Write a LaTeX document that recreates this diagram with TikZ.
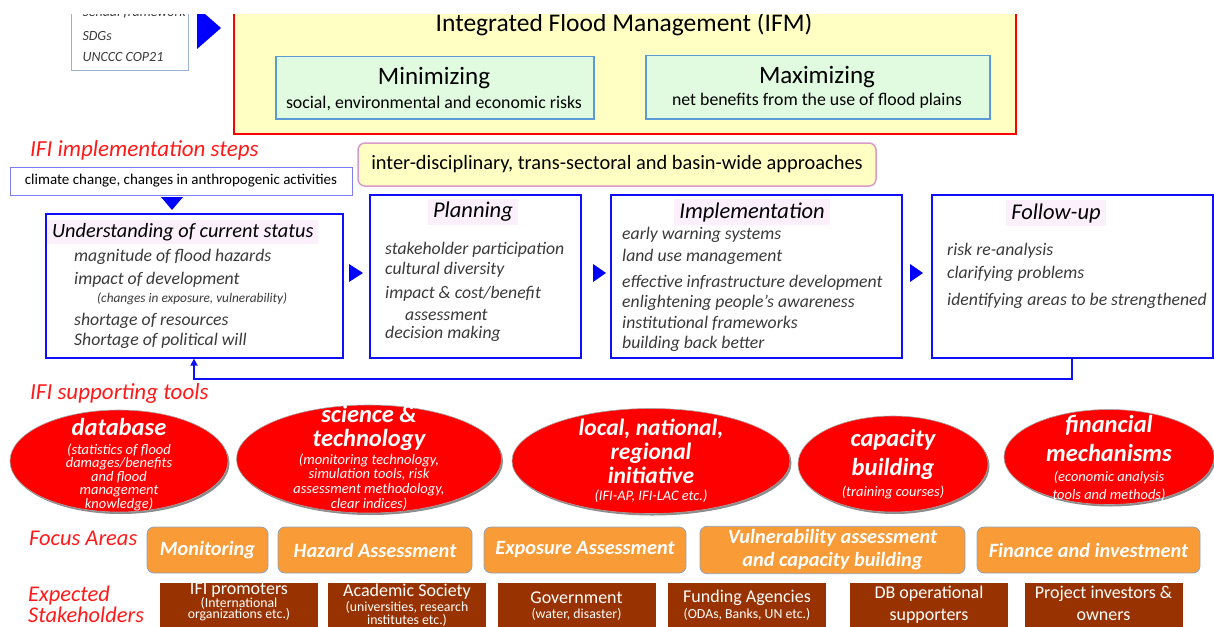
\documentclass[tikz,border=0pt]{standalone}
\usepackage{fontspec}
\setmainfont{Carlito}
\usetikzlibrary{arrows.meta, shapes.geometric, shadows}

\definecolor{ifmyellow}{HTML}{FFFFC4}
\definecolor{ifmgreen}{HTML}{E1FBE1}
\definecolor{boxblue}{HTML}{5B9BD5}
\definecolor{stepblue}{HTML}{1010F8}
\definecolor{hdrpink}{HTML}{FBF0FB}
\definecolor{labred}{HTML}{FF1A1A}
\definecolor{focusorange}{HTML}{F99B36}
\definecolor{focusedge}{HTML}{8EA4BE}
\definecolor{holderbrown}{HTML}{983200}
\definecolor{itemgray}{HTML}{3A3A3A}
\definecolor{fwedge}{HTML}{9DB3D6}
\definecolor{approachedge}{HTML}{D99AC8}
\definecolor{climateedge}{HTML}{7C7CF4}

\newcommand{\fsz}[2]{\fontsize{#1}{#2}\selectfont}

\begin{document}
\begin{tikzpicture}[x=1pt, y=-1pt,
    stepbox/.style={draw=stepblue, line width=1.6pt, fill=white, anchor=north west, inner sep=0pt},
    stephead/.style={fill=hdrpink, text=black, inner xsep=5pt, inner ysep=3pt, font=\itshape\fsz{22.5}{24}},
    item/.style={anchor=west, inner sep=0pt, text=itemgray, font=\itshape\fsz{17.7}{19}},
    redlabel/.style={anchor=west, inner sep=0pt, text=labred, font=\itshape\fsz{23}{23}},
    tool/.style={ellipse, fill=red, draw=black!35, line width=0.6pt, inner sep=0pt,
        general shadow={fill=black!45, shadow xshift=1.5pt, shadow yshift=-2pt}},
    tooltitle/.style={text=white, align=center, inner sep=0pt, font=\bfseries\itshape\fsz{24.5}{24}},
    toolsub/.style={text=white, align=center, inner sep=0pt, font=\itshape\fsz{14.5}{13.5}},
    focus/.style={fill=focusorange, draw=focusedge, line width=0.8pt, rounded corners=7pt,
        minimum height=46pt, text=white, align=center, font=\bfseries\itshape\fsz{20.3}{23}},
    holder/.style={fill=holderbrown, anchor=north, minimum height=60pt, inner sep=0pt},
    holdertext/.style={text=white, inner sep=0pt, font=\fsz{18}{18}},
    holdersub/.style={text=white, inner sep=0pt, font=\fsz{13.8}{14}},
    tri/.style={fill=blue}]

\useasboundingbox (0,0) rectangle (1214,626);
\clip (0,15) rectangle (1214,626);

% frameworks and IFM
\draw[fwedge, line width=1pt] (71,-10) rectangle (188,70);
\node[anchor=west, text=itemgray, font=\itshape\fsz{14}{14}] (sendai) at (79,12) {Sendai framework};
\node[anchor=west, text=itemgray, font=\itshape\fsz{14}{14}] (sdgs) at (79,36) {SDGs};
\node[anchor=west, text=itemgray, font=\itshape\fsz{14}{14}] (cop) at (79,57) {UNCCC COP21};
\fill[tri] (197,7) -- (221,28) -- (197,49) -- cycle;

\node[draw=red, line width=2pt, fill=ifmyellow, anchor=north west, minimum width=782, minimum height=150] (ifm) at (233,-17) {};
\node[font=\fsz{25.5}{26}] (ifmtitle) at (624,24) {Integrated Flood Management (IFM)};
\node[draw=boxblue, line width=1.5pt, fill=ifmgreen, anchor=north west, minimum width=318, minimum height=62] (minbox) at (275,56) {};
\node[font=\fsz{25}{25}] (mintitle) at (434,78) {Minimizing};
\node[font=\fsz{17.8}{18}] (minsub) at (434,103) {social, environmental and economic risks};
\node[draw=boxblue, line width=1.5pt, fill=ifmgreen, anchor=north west, minimum width=344, minimum height=63] (maxbox) at (645,55) {};
\node[font=\fsz{25}{25}] (maxtitle) at (817,77) {Maximizing};
\node[font=\fsz{17.8}{18}] (maxsub) at (817,101) {net benefits from the use of flood plains};

% implementation steps
\node[redlabel] (steplabel) at (30,150) {IFI implementation steps};
\node[draw=approachedge, line width=1.5pt, fill=ifmyellow, rounded corners=7pt, minimum width=518, minimum height=43, font=\fsz{20.4}{21}] (approach) at (617,164.5) {inter-disciplinary, trans-sectoral and basin-wide approaches};
\node[draw=climateedge, line width=1pt, minimum width=342, minimum height=28, font=\fsz{15}{15}] (climate) at (181,181) {climate change, changes in anthropogenic activities};
\fill[tri] (161,197) -- (183,197) -- (172,210) -- cycle;

\node[stepbox, minimum width=297, minimum height=144] (under) at (45,213) {};
\node[stepbox, minimum width=211, minimum height=163] (plan) at (369,194) {};
\node[stepbox, minimum width=291, minimum height=163] (impl) at (610,194) {};
\node[stepbox, minimum width=281, minimum height=163] (follow) at (931,194) {};
\fill[tri] (349,264) -- (363,273) -- (349,282) -- cycle;
\fill[tri] (593,264) -- (606,273) -- (593,282) -- cycle;
\fill[tri] (910,264) -- (923,273) -- (910,282) -- cycle;

\node[stephead, anchor=west, font=\itshape\fsz{20.3}{22}] (underhead) at (47,232) {Understanding of current status};
\foreach \y/\t in {257/magnitude of flood hazards, 280/impact of development,
    321/shortage of resources, 341/Shortage of political will}
  \node[item] (u\y) at (74,\y) {\t};
\node[item, font=\itshape\fsz{13.3}{14}] (uchange) at (97,299) {(changes in exposure, vulnerability)};

\node[stephead] (planhead) at (473,212) {Planning};
\foreach \y/\t in {250/stakeholder participation, 270/cultural diversity,
    294/{impact \& cost/benefit}, 334/decision making}
  \node[item] (p\y) at (385,\y) {\t};
\node[item] (passess) at (405,315) {assessment};

\node[stephead] (implhead) at (752,212) {Implementation};
\foreach \y/\t in {235/early warning systems, 257/land use management,
    283/effective infrastructure development, 303/enlightening people’s awareness,
    323/institutional frameworks, 344/building back better}
  \node[item] (i\y) at (622,\y) {\t};

\node[stephead] (followhead) at (1056,213) {Follow-up};
\foreach \y/\t in {251/risk re-analysis, 274/clarifying problems,
    301/identifying areas to be strengthened}
  \node[item] (f\y) at (947,\y) {\t};

% loop back
\draw[stepblue, line width=2pt, -{Triangle[length=7pt, width=7pt]}]
  (follow.south) -- ++(0,20) -| ([xshift=149]under.south west);

% supporting tools
\node[redlabel] (toollabel) at (30,393) {IFI supporting tools};
\node[tool, minimum width=218, minimum height=102] (db) at (119,461) {};
\node[tool, minimum width=265, minimum height=108] (sci) at (369,459) {};
\node[tool, minimum width=278, minimum height=105] (loc) at (651,461) {};
\node[tool, minimum width=190, minimum height=96] (cap) at (893,464) {};
\node[tool, minimum width=210, minimum height=95] (fin) at (1109,457) {};

\node[tooltitle] (dbtitle) at (119,427) {database};
\node[toolsub] (dbsub) at (119,477) {(statistics of flood\\damages/benefits\\and flood\\management\\knowledge)};
\node[tooltitle] (scititle) at (369,428) {science \&\\technology};
\node[toolsub, font=\itshape\fsz{14.5}{14.7}] (scisub) at (369,482) {(monitoring technology,\\simulation tools, risk\\assessment methodology,\\clear indices)};
\node[tooltitle, font=\bfseries\itshape\fsz{23.5}{24}] (loctitle) at (651,451) {local, national,\\regional\\initiative};
\node[toolsub] (locsub) at (651,496) {(IFI-AP, IFI-LAC etc.)};
\node[tooltitle, font=\bfseries\itshape\fsz{24.5}{29}] (captitle) at (893,454.5) {capacity\\building};
\node[toolsub] (capsub) at (893,492) {(training courses)};
\node[tooltitle, font=\bfseries\itshape\fsz{24.5}{29}] (fintitle) at (1109,438.5) {financial\\mechanisms};
\node[toolsub, font=\itshape\fsz{14.5}{18}] (finsub) at (1109,486) {(economic analysis\\tools and methods)};

% focus areas
\node[redlabel, font=\itshape\fsz{22.5}{23}] (focuslabel) at (29,538) {Focus Areas};
\node[focus, minimum width=121] (mon) at (207.5,550) {Monitoring};
\node[focus, minimum width=194] (haz) at (375,550) {Hazard Assessment};
\node[focus, minimum width=202] (expo) at (585,550) {Exposure Assessment};
\node[focus, minimum width=265] (vul) at (832.5,550) {Vulnerability assessment\\and capacity building};
\node[focus, minimum width=223] (finv) at (1088.5,550) {Finance and investment};

% stakeholders
\node[redlabel, font=\itshape\fsz{22.4}{23}] (holdlabel1) at (28,596) {Expected};
\node[redlabel, font=\itshape\fsz{22.4}{23}] (holdlabel2) at (28,615) {Stakeholders};
\foreach \n/\x in {ifi/239, aca/407, gov/576.5, fund/747, dbop/929, proj/1103.5}
  \node[holder, minimum width=158] (\n) at (\x,583) {};
\node[holdertext] (ifit) at (239,590) {IFI promoters};
\node[holdersub] (ifis1) at (239,603) {(International};
\node[holdersub] (ifis2) at (239,615) {organizations etc.)};
\node[holdertext] (acat) at (407,592) {Academic Society};
\node[holdersub] (acas1) at (407,607) {(universities, research};
\node[holdersub] (acas2) at (407,620) {institutes etc.)};
\node[holdertext] (govt) at (576.5,598) {Government};
\node[holdersub] (govs) at (576.5,614) {(water, disaster)};
\node[holdertext] (fundt) at (747,598) {Funding Agencies};
\node[holdersub] (funds) at (747,614) {(ODAs, Banks, UN etc.)};
\node[holdertext] (dbopt1) at (929,594) {DB operational};
\node[holdertext] (dbopt2) at (929,616) {supporters};
\node[holdertext] (projt1) at (1103.5,594) {Project investors \&};
\node[holdertext] (projt2) at (1103.5,616) {owners};
\end{tikzpicture}
\end{document}
